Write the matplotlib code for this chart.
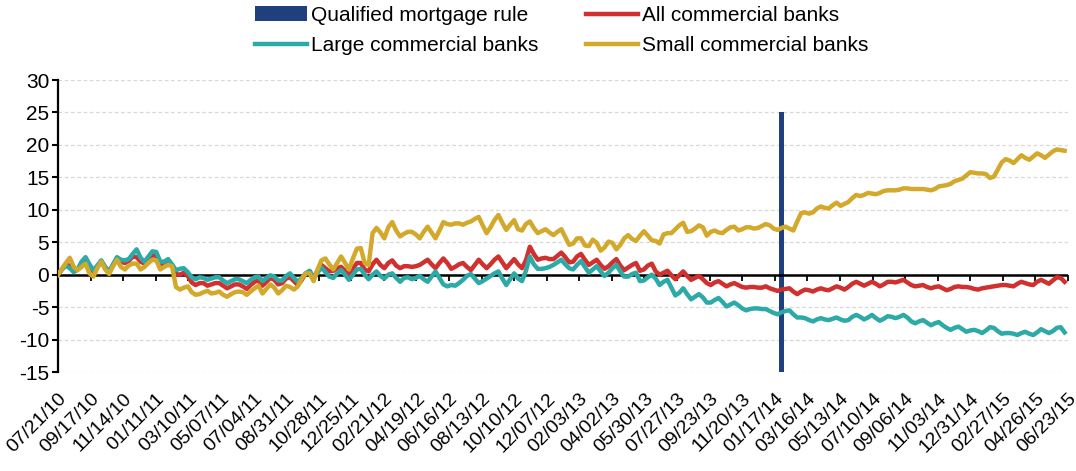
import numpy as np
import pandas as pd
import matplotlib
matplotlib.use('Agg')
import matplotlib.pyplot as plt

plt.rcParams['font.family'] = ['Liberation Sans', 'DejaVu Sans']

# weekly observations (Wednesdays), percent change since 07/21/10
start_date = '2010-07-21'

small_banks = [
    0.0, 0.9, 1.8, 2.6, 1.2, 0.7, 1.2, 1.7, 0.2, -0.3,
    1.0, 2.0, 0.8, 0.1, 1.3, 2.3, 1.2, 0.8, 1.4, 1.7,
    1.7, 0.8, 1.2, 1.8, 2.3, 2.2, 0.8, 1.2, 1.5, 1.3,
    -1.9, -2.3, -2.0, -1.8, -2.7, -3.1, -3.0, -2.7, -2.5, -2.9,
    -2.8, -2.6, -3.1, -3.4, -3.0, -2.7, -2.6, -2.7, -3.1, -2.6,
    -2.1, -1.7, -2.9, -2.2, -1.5, -2.0, -2.9, -2.4, -1.7, -1.9,
    -2.3, -1.8, -0.6, 0.2, 0.2, -1.0, 0.8, 2.2, 2.5, 1.6,
    0.8, 1.8, 2.8, 1.8, 0.8, 2.5, 4.0, 4.1, 1.8, 1.5,
    6.4, 7.2, 6.5, 5.6, 7.3, 8.1, 6.8, 5.9, 6.3, 6.6,
    6.6, 6.2, 5.6, 6.6, 7.4, 6.5, 5.6, 6.8, 8.1, 7.8,
    7.7, 7.9, 7.9, 7.7, 8.0, 8.2, 8.6, 8.9, 7.6, 6.4,
    7.3, 8.4, 9.2, 8.0, 6.9, 7.7, 8.4, 7.0, 6.8, 7.8,
    8.2, 7.2, 6.4, 6.7, 7.0, 6.5, 6.1, 6.6, 7.0, 5.8,
    4.6, 4.8, 5.6, 5.6, 4.5, 4.4, 5.4, 4.9, 3.7, 4.2,
    5.1, 4.9, 3.9, 4.6, 5.6, 6.1, 5.5, 5.2, 6.0, 6.7,
    6.0, 5.3, 5.2, 4.8, 6.2, 6.4, 6.4, 7.0, 7.6, 8.0,
    6.6, 6.7, 7.1, 7.6, 7.3, 6.0, 6.6, 6.8, 6.5, 6.4,
    6.9, 7.3, 7.4, 6.8, 7.0, 7.3, 7.3, 7.1, 7.2, 7.5,
    7.8, 7.6, 7.1, 6.9, 7.2, 7.4, 7.1, 6.8, 8.2, 9.5,
    9.6, 9.4, 9.6, 10.2, 10.5, 10.3, 10.2, 10.7, 11.1, 10.6,
    10.9, 11.2, 11.8, 12.3, 12.1, 12.3, 12.6, 12.5, 12.4, 12.6,
    12.9, 13.0, 13.0, 13.0, 13.1, 13.3, 13.3, 13.2, 13.2, 13.2,
    13.2, 13.1, 13.0, 13.2, 13.6, 13.7, 13.8, 14.0, 14.4, 14.6,
    14.8, 15.3, 15.8, 15.7, 15.6, 15.6, 15.5, 14.9, 15.1, 16.2,
    17.3, 17.8, 17.6, 17.2, 17.8, 18.4, 18.0, 17.7, 18.2, 18.7,
    18.4, 18.0, 18.5, 19.0, 19.3, 19.2, 19.1,
]

large_banks = [
    0.0, 0.8, 1.4, 1.0, 0.4, 0.8, 2.0, 2.7, 1.6, 0.7,
    1.4, 2.2, 1.2, 0.5, 1.6, 2.7, 2.3, 2.2, 2.4, 3.2,
    3.9, 2.6, 2.0, 2.8, 3.6, 3.5, 2.0, 2.0, 2.4, 1.6,
    0.7, 0.9, 1.0, 0.4, -0.4, -0.7, -0.4, -0.5, -0.8, -0.6,
    -0.4, -0.4, -0.9, -1.3, -1.0, -0.7, -0.7, -1.0, -1.3, -0.8,
    -0.4, -0.3, -1.0, -0.5, -0.1, -0.3, -0.9, -0.9, -0.2, 0.2,
    -0.5, -1.1, -0.5, 0.2, 0.6, -0.5, 0.3, 1.1, 0.4, -0.3,
    -0.5, 0.2, 0.7, 0.0, -0.8, 0.0, 0.8, 0.9, 0.0, -0.7,
    0.0, 0.5, -0.2, -0.6, 0.0, 0.2, -0.5, -1.1, -0.5, -0.4,
    -0.7, -0.5, -0.2, -0.7, -1.1, -0.3, 0.5, -0.5, -1.5, -1.8,
    -1.6, -1.7, -1.3, -0.8, -0.2, 0.1, -0.6, -1.3, -1.0, -0.6,
    -0.2, 0.2, 0.5, -0.6, -1.6, -0.7, 0.2, -0.6, -1.0, 0.6,
    2.8, 1.6, 0.9, 0.9, 1.0, 1.2, 1.5, 1.9, 2.3, 1.6,
    1.0, 0.8, 1.5, 2.1, 1.2, 0.3, 0.8, 1.3, 0.5, -0.2,
    0.3, 1.0, 1.5, 0.5, -0.3, -0.3, 0.1, 0.3, -1.0, -0.9,
    -0.4, 0.0, -0.6, -1.6, -1.1, -0.8, -2.0, -3.2, -2.8, -2.1,
    -3.0, -3.8, -3.4, -3.0, -3.5, -4.3, -4.3, -3.9, -3.6, -4.2,
    -4.9, -4.6, -4.3, -4.7, -5.2, -5.5, -5.3, -5.2, -5.2, -5.3,
    -5.3, -5.6, -5.9, -6.1, -5.8, -5.6, -5.5, -6.1, -6.6, -6.6,
    -6.7, -7.0, -7.2, -6.9, -6.7, -6.9, -7.0, -6.8, -6.6, -6.9,
    -7.1, -7.0, -6.5, -6.2, -6.5, -6.9, -6.6, -6.2, -6.7, -7.1,
    -6.8, -6.4, -6.5, -6.7, -6.5, -6.2, -6.6, -7.2, -7.5, -7.2,
    -7.0, -7.4, -7.8, -7.5, -7.3, -7.8, -8.2, -8.5, -8.2, -8.0,
    -8.4, -8.8, -8.6, -8.5, -8.7, -9.0, -8.6, -8.1, -8.2, -8.7,
    -9.1, -9.0, -9.0, -9.1, -9.3, -9.0, -8.8, -9.1, -9.3, -8.9,
    -8.4, -8.7, -9.0, -8.7, -8.2, -8.1, -8.9,
]

all_banks = [
    0.0, 0.8, 1.5, 1.4, 0.5, 0.8, 1.8, 2.4, 1.2, 0.5,
    1.3, 2.1, 1.1, 0.4, 1.5, 2.5, 2.0, 1.8, 2.1, 2.8,
    2.7, 2.0, 1.7, 2.3, 3.0, 2.9, 1.6, 1.7, 2.1, 1.4,
    0.1, 0.0, 0.3, -0.2, -1.2, -1.6, -1.3, -1.3, -1.7, -1.5,
    -1.3, -1.3, -1.7, -2.1, -1.8, -1.5, -1.5, -1.8, -2.2, -1.6,
    -1.1, -0.9, -1.7, -1.1, -0.5, -0.8, -1.5, -1.3, -0.6, -0.4,
    -1.0, -1.6, -0.8, 0.2, 0.5, -0.5, 0.6, 1.5, 1.0, 0.5,
    0.6, 1.0, 1.2, 0.6, 0.0, 0.9, 1.8, 1.8, 0.8, 0.5,
    1.6, 2.3, 1.5, 1.0, 1.8, 2.2, 1.4, 1.0, 1.3, 1.3,
    1.2, 1.3, 1.5, 1.9, 2.3, 1.6, 1.0, 1.8, 2.5, 1.8,
    0.9, 1.2, 1.6, 1.8, 1.2, 0.7, 1.5, 2.3, 1.6, 1.0,
    1.6, 2.3, 2.8, 1.9, 1.0, 1.7, 2.4, 1.6, 1.0, 2.2,
    4.3, 3.2, 2.3, 2.5, 2.6, 2.4, 2.4, 2.9, 3.4, 2.7,
    1.9, 2.0, 2.8, 3.2, 2.3, 1.5, 1.9, 2.3, 1.5, 0.9,
    1.3, 1.9, 2.4, 1.4, 0.7, 1.1, 1.5, 1.8, 0.6, 0.8,
    1.4, 1.7, 0.5, 0.0, 0.3, 0.6, -0.1, -0.7, -0.1, 0.5,
    -0.2, -0.8, -0.5, -0.2, -0.7, -1.3, -1.6, -1.2, -1.0, -1.4,
    -1.8, -1.5, -1.3, -1.6, -1.9, -2.0, -1.9, -1.9, -2.0, -2.0,
    -1.8, -2.1, -2.3, -2.5, -2.3, -2.2, -2.1, -2.6, -3.0, -2.6,
    -2.3, -2.4, -2.6, -2.3, -2.1, -2.3, -2.4, -2.1, -1.8, -2.0,
    -2.3, -1.9, -1.4, -1.1, -1.4, -1.7, -1.4, -1.1, -1.4, -1.8,
    -1.5, -1.1, -1.1, -1.2, -1.0, -0.8, -1.2, -1.6, -1.8, -1.7,
    -1.6, -1.9, -2.1, -1.9, -1.8, -2.1, -2.4, -2.2, -1.9, -1.8,
    -1.9, -1.9, -2.0, -2.2, -2.3, -2.1, -2.0, -1.9, -1.8, -1.7,
    -1.6, -1.6, -1.7, -1.8, -1.4, -1.1, -1.3, -1.5, -1.6, -1.1,
    -0.8, -1.1, -1.4, -0.9, -0.4, -0.5, -1.1,
]

qm_rule_date = '2014-01-29'
qm_bar_bottom = -15
qm_bar_top = 25

tick_start = '2010-07-21'
tick_end = '2015-06-23'
tick_step_days = 58
y_ticks = [30, 25, 20, 15, 10, 5, 0, -5, -10, -15]

navy = '#1F3F7E'
red = '#D0302E'
teal = '#2DAAA8'
gold = '#D3A92B'

dates = pd.date_range(start_date, periods=len(small_banks), freq='7D')
tick_dates = pd.date_range(tick_start, tick_end, freq=f'{tick_step_days}D')

fig = plt.figure(figsize=(10.76, 4.71), dpi=100)
ax = fig.add_axes([58 / 1076, 1 - 372 / 471, 1010 / 1076, 292 / 471])

qm = ax.bar(pd.Timestamp(qm_rule_date), qm_bar_top - qm_bar_bottom, bottom=qm_bar_bottom,
            width=9, color=navy, label='Qualified mortgage rule', zorder=2)
ax.axhline(0, color='black', lw=1.8, zorder=2.5)
l_all, = ax.plot(dates, all_banks, color=red, lw=3.2, label='All commercial banks', zorder=3)
l_large, = ax.plot(dates, large_banks, color=teal, lw=3.2, label='Large commercial banks', zorder=4)
l_small, = ax.plot(dates, small_banks, color=gold, lw=3.2, label='Small commercial banks', zorder=5)

ax.set_ylim(min(y_ticks), max(y_ticks))
ax.set_xlim(tick_dates[0], tick_dates[-1])
ax.set_yticks(y_ticks)
ax.set_yticklabels([str(t) for t in y_ticks], fontsize=15)
ax.yaxis.grid(True, color='#D8D8D8', linestyle=(0, (3, 2)), lw=0.9)
ax.set_axisbelow(True)

for side in ['top', 'right', 'bottom']:
    ax.spines[side].set_visible(False)
ax.spines['left'].set_linewidth(1.6)
ax.tick_params(axis='y', direction='out', length=4.3, width=1.5, pad=2)

ax.set_xticks(tick_dates)
ax.set_xticklabels([d.strftime('%m/%d/%y') for d in tick_dates], fontsize=14,
                   rotation=45, ha='right', rotation_mode='anchor')
ax.tick_params(axis='x', length=0, pad=13)

# tick marks sitting on the zero line
zero_pos = (0 - min(y_ticks)) / (max(y_ticks) - min(y_ticks))
sec = ax.secondary_xaxis(zero_pos)
sec.set_xticks(tick_dates)
sec.set_xticklabels([])
sec.spines['bottom'].set_visible(False)
sec.tick_params(direction='out', length=4, width=1.3)

fig.legend(handles=[qm, l_large, l_all, l_small], ncol=2, frameon=False,
           loc='upper left', bbox_to_anchor=(255 / 1076, 1 - 6 / 471), fontsize=15,
           handlelength=2.5, handletextpad=0.2, columnspacing=2.25, labelspacing=0.55,
           borderpad=0, borderaxespad=0)

fig.savefig('out.png', dpi=100)
